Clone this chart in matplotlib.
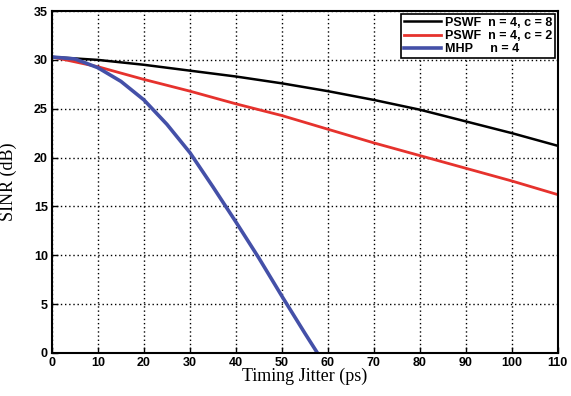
import matplotlib
matplotlib.use("Agg")
import matplotlib.pyplot as plt

jitter_a = [0, 10, 20, 30, 40, 50, 60, 70, 80, 90, 100, 110]
pswf_c8 = [30.3, 30.0, 29.5, 28.9, 28.3, 27.6, 26.8, 25.9, 24.9, 23.7, 22.5, 21.2]
pswf_c2 = [30.3, 29.3, 28.0, 26.8, 25.5, 24.3, 22.9, 21.5, 20.2, 18.9, 17.6, 16.2]

jitter_b = [0, 5, 10, 15, 20, 25, 30, 35, 40, 45, 50, 55, 57.7]
mhp = [30.3, 30.1, 29.2, 27.8, 25.9, 23.4, 20.5, 17.0, 13.4, 9.7, 5.8, 2.0, 0.0]

xticks = [0, 10, 20, 30, 40, 50, 60, 70, 80, 90, 100, 110]
yticks = [0, 5, 10, 15, 20, 25, 30, 35]
labels = ["PSWF  n = 4, c = 8", "PSWF  n = 4, c = 2", "MHP     n = 4"]

fig = plt.figure(figsize=(5.71, 3.96), dpi=100)
ax = fig.add_axes([0.091, 0.109, 0.886, 0.863])

ax.plot(jitter_a, pswf_c8, color="black", lw=1.8, label=labels[0])
ax.plot(jitter_a, pswf_c2, color="#e6322d", lw=2.0, label=labels[1])
ax.plot(jitter_b, mhp, color="#4450a8", lw=2.6, label=labels[2])

ax.set_xlim(0, 110)
ax.set_ylim(0, 35)
ax.set_xticks(xticks)
ax.set_yticks(yticks)
ax.tick_params(direction="in", length=4, width=1, labelsize=9, pad=3)
for lab in ax.get_xticklabels() + ax.get_yticklabels():
    lab.set_fontfamily("Liberation Sans")
    lab.set_fontweight("bold")
ax.grid(True, color="black", linestyle=(0, (1, 2)), linewidth=1.0)
for s in ax.spines.values():
    s.set_linewidth(1.5)

ax.set_xlabel("Timing Jitter (ps)", fontfamily="Liberation Serif", fontsize=13, labelpad=-1)
ax.set_ylabel("SINR (dB)", fontfamily="Liberation Serif", fontsize=13, labelpad=12)

leg = ax.legend(loc="upper right", prop={"family": "Liberation Sans", "weight": "bold", "size": 9},
                handlelength=3.0, handletextpad=0.3, borderpad=0.25, labelspacing=0.1,
                fancybox=False, framealpha=1, edgecolor="black", borderaxespad=0.2)
leg.get_frame().set_linewidth(1.2)

fig.savefig("out.png", dpi=100)
